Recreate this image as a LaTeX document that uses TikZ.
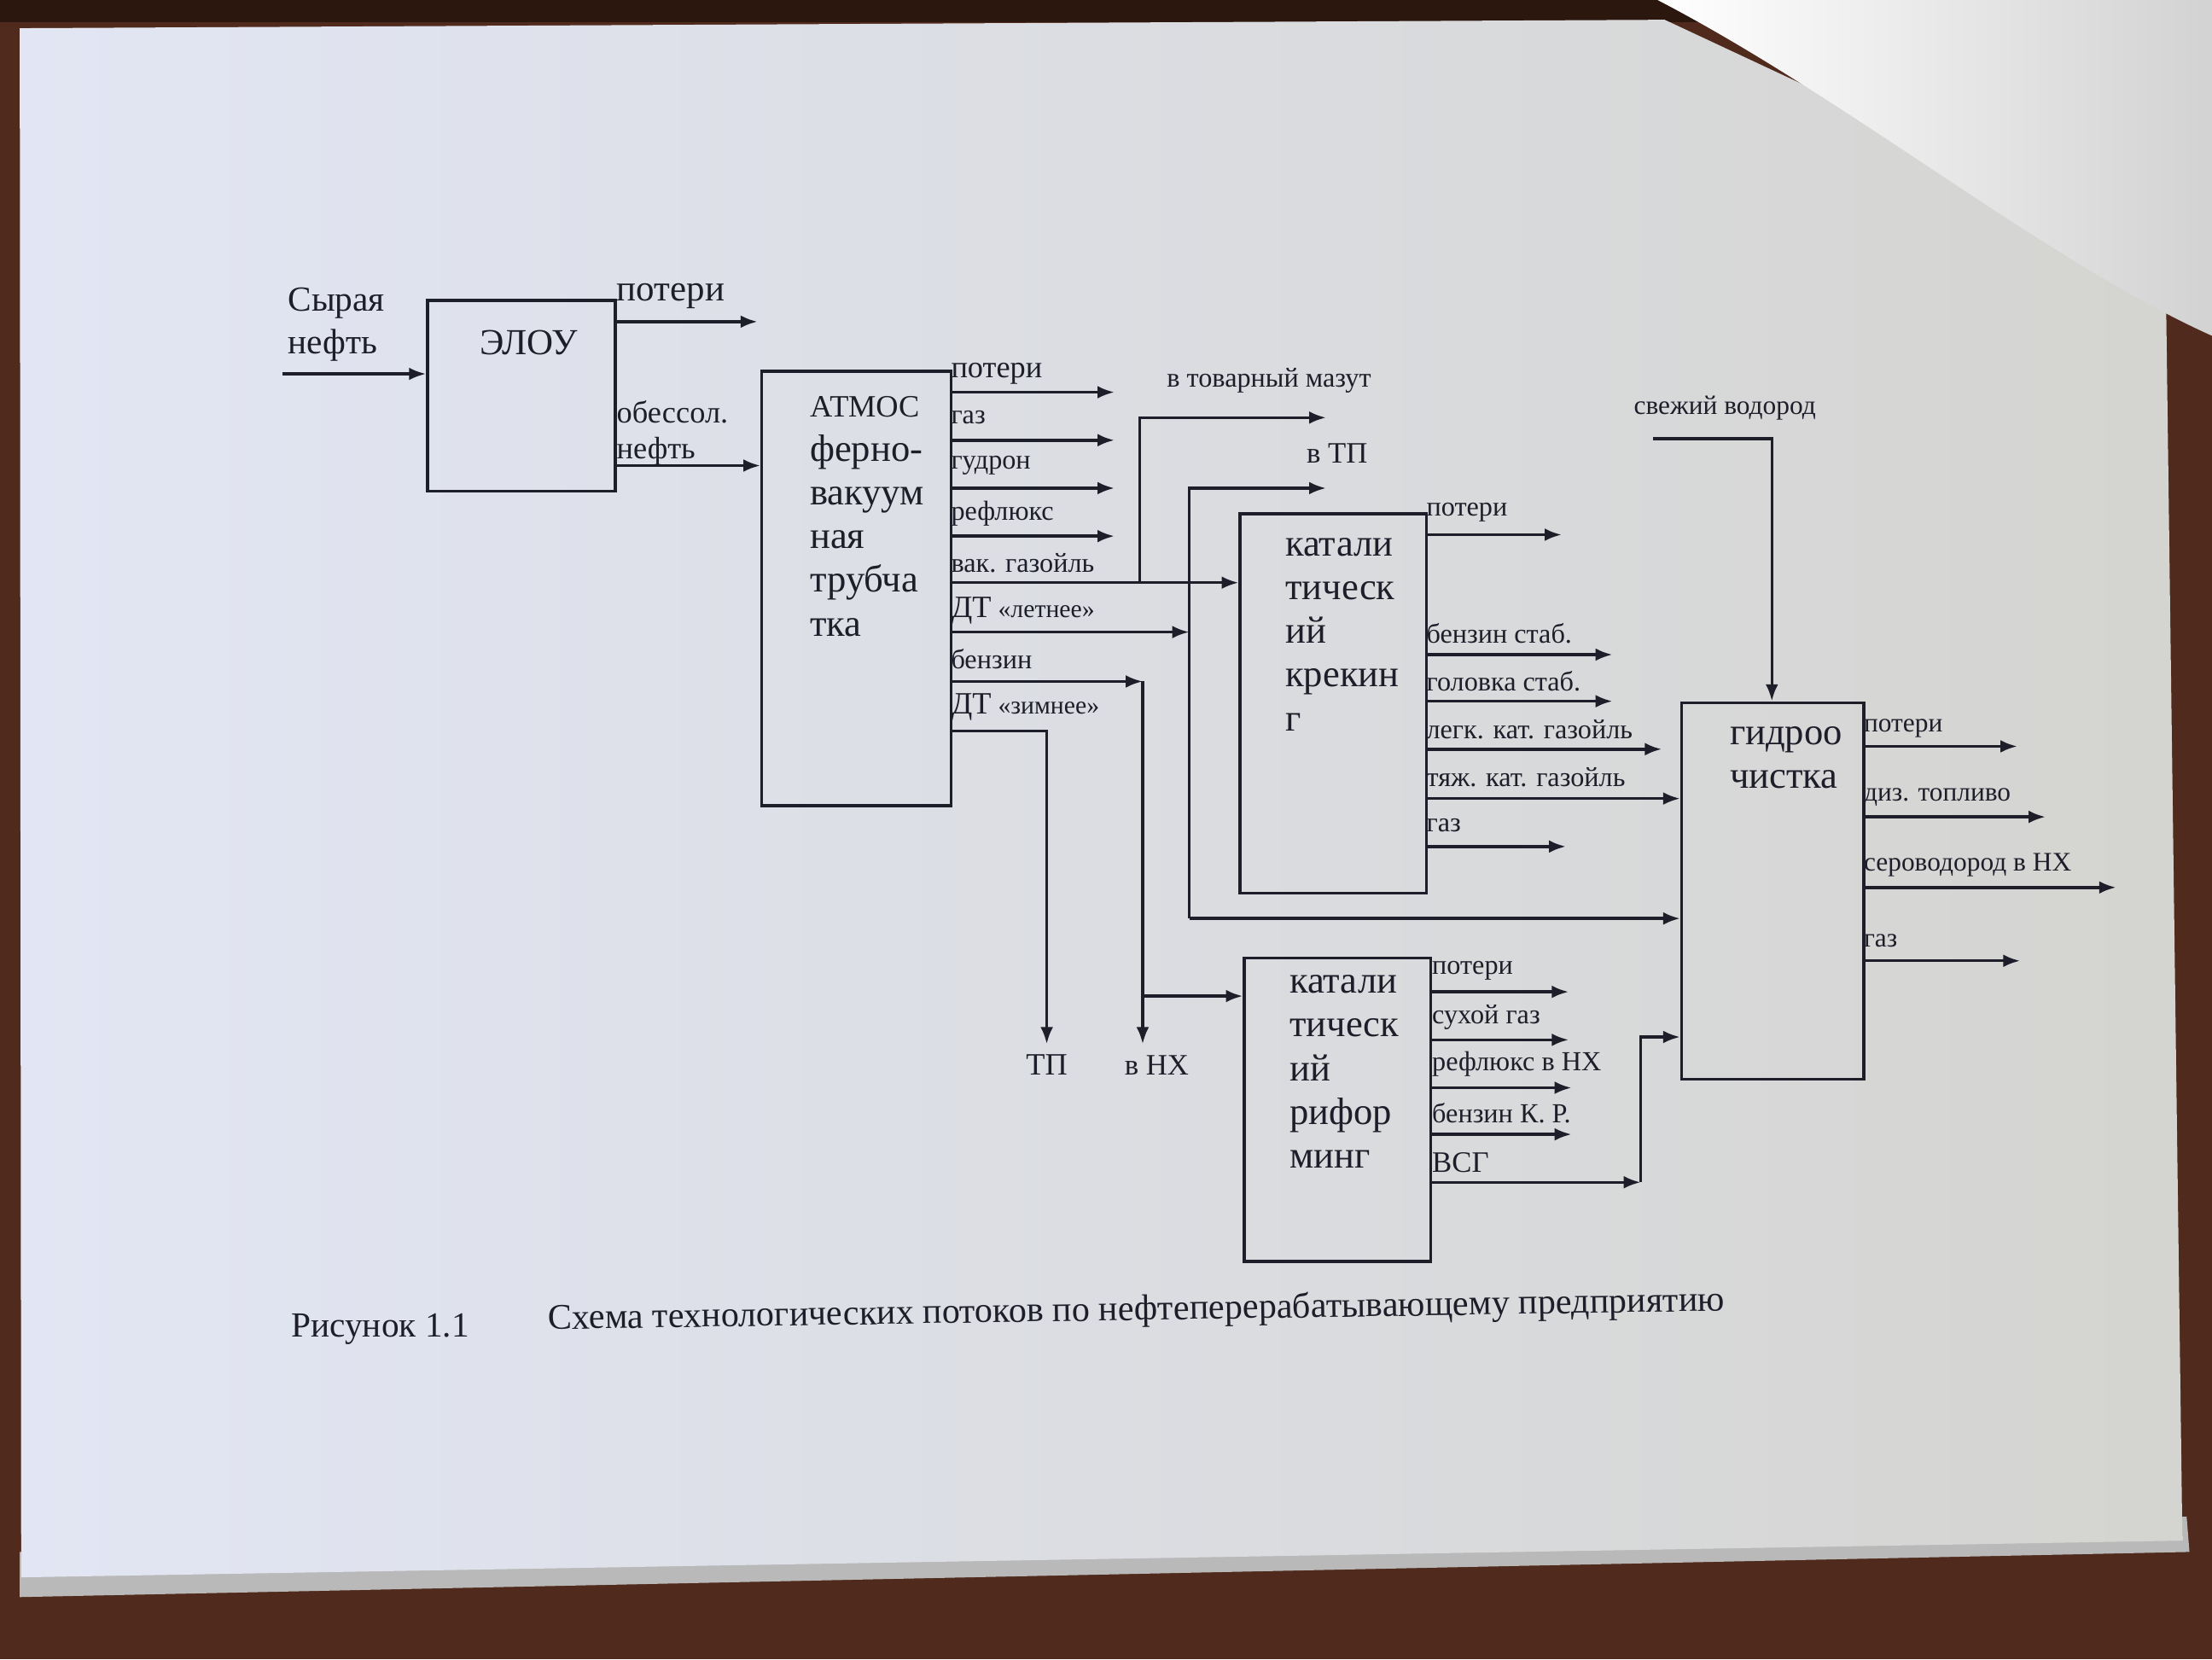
\documentclass[tikz,border=0pt]{standalone}
\usepackage{fontspec}
\setmainfont{Liberation Serif}
\usetikzlibrary{arrows.meta,calc}
\definecolor{ink}{RGB}{30,30,42}
\definecolor{wood}{RGB}{80,42,28}
\definecolor{paperL}{RGB}{226,230,244}
\definecolor{paperR}{RGB}{212,212,208}
\tikzset{
  box/.style={draw=ink,line width=2.1pt,inner sep=0pt,anchor=north west},
  arr/.style={draw=ink,line width=2.1pt,-{Latex[length=12pt,width=9pt]}},
  lbl/.style={anchor=west,inner sep=1pt,text=ink,font=\fontsize{19.5}{21}\selectfont},
  big/.style={anchor=west,inner sep=1pt,text=ink,font=\fontsize{25}{30}\selectfont,align=left},
  btxt/.style={anchor=north west,inner sep=0pt,text=ink,align=left,font=\fontsize{27}{31}\selectfont},
}
\begin{document}
\begin{tikzpicture}[x=1pt,y=-1pt]
\useasboundingbox (0,0) rectangle (1568,1176);
% background
\fill[wood] (0,0) rectangle (1568,1176);
\fill[wood!55!black] (0,0) rectangle (1568,16);
\fill[gray!55] (14,1100) -- (1550,1075) -- (1552,1100) -- (14,1132) -- cycle;
\shade[left color=paperL,right color=paperR] (14,20) -- (1180,14) -- (1535,180) -- (1547,1092) -- (15,1118) -- cycle;
\shade[left color=white,right color=gray!35] (1175,0) .. controls (1310,70) and (1450,185) .. (1568,238) -- (1568,0) -- cycle;

% boxes
\node[box,minimum width=133pt,minimum height=135pt] (elou) at (302,212) {};
\node[box,minimum width=134pt,minimum height=308pt] (atm) at (539,262) {};
\node[box,minimum width=132pt,minimum height=269pt] (kk) at (878,363) {};
\node[box,minimum width=132pt,minimum height=215pt] (kr) at (881,678) {};
\node[box,minimum width=129pt,minimum height=267pt] (gid) at (1191,497) {};

% box texts
\node[text=ink,font=\fontsize{26}{30}\selectfont] (elout) at (375,243) {ЭЛОУ};
\node[btxt] (atmt) at (574,281) {{\fontsize{22}{31}\selectfont АТМОС}\\ферно-\\вакуум\\ная\\трубча\\тка};
\node[btxt] (kkt) at (911,381) {катали\\тическ\\ий\\крекин\\г};
\node[btxt] (krt) at (914,691) {катали\\тическ\\ий\\рифор\\минг};
\node[btxt] (gidt) at (1226,515) {гидроо\\чистка};

% ELOU
\node[big] (crudet) at (203,230) {Сырая\\нефть};
\coordinate (crude) at (200,265);
\draw[arr] (crude) -- (crude -| elou.west);
\coordinate (elouloss) at (537,228);
\draw[arr] (elou.east |- elouloss) -- (elouloss);
\node[big,font=\fontsize{26}{30}\selectfont] (elouL1) at (436,210) {потери};
\node[big,font=\fontsize{22}{25}\selectfont] (elouL2) at (436,307) {обессол.\\нефть};
\draw[arr] (elou.east |- 0,330) -- (atm.west |- 0,330);

% ATM outputs
\foreach \y/\n in {278/a,312/b,346/c,380/d}{
  \coordinate (atmo\n) at (790,\y);
  \draw[arr] (atm.east |- atmo\n) -- (atmo\n);
}
\node[lbl,font=\fontsize{22}{22}\selectfont] (la1) at (673,265) {потери};
\node[lbl] (la2) at (673,296) {газ};
\node[lbl] (la3) at (673,330) {гудрон};
\node[lbl] (la4) at (673,364) {рефлюкс};
\node[lbl] (la5) at (673,399) {вак. газойль};
\node[lbl] (la6) at (673,433) {{\fontsize{22}{22}\selectfont ДТ} {\fontsize{18}{18}\selectfont «летнее»}};
\node[lbl] (la7) at (673,467) {бензин};
\node[lbl] (la8) at (673,501) {{\fontsize{22}{22}\selectfont ДТ} {\fontsize{18}{18}\selectfont «зимнее»}};

% vak. gazoil -> kk, branch to mazut
\draw[arr] (atm.east |- 0,413) -- (kk.west |- 0,413);
\coordinate (jmaz) at (808,413);
\coordinate (mazut) at (940,296);
\draw[arr] (jmaz) |- (mazut);
\node[lbl,font=\fontsize{19.5}{20}\selectfont] (lmaz) at (826,270) {в товарный мазут};

% DT letnee -> collector x=843
\coordinate (ctop) at (843,346);
\coordinate (cbot) at (843,651);
\coordinate (vtp) at (940,346);
\draw[arr] (atm.east |- 0,448) -- (ctop |- 0,448);
\draw[arr] (cbot) -- (ctop) -- (vtp);
\draw[arr] (cbot) -- (cbot -| gid.west);
\node[lbl,font=\fontsize{21}{22}\selectfont] (lvtp) at (925,321) {в ТП};

% benzin -> NH and reforming
\coordinate (bz) at (810,483);
\coordinate (vnh) at (810,740);
\coordinate (bzr) at (810,706);
\draw[arr] (atm.east |- bz) -- (bz);
\draw[arr] (bz) -- (vnh);
\draw[arr] (bzr) -- (bzr -| kr.west);
\node[lbl,font=\fontsize{21}{22}\selectfont] (lvnh) at (796,755) {в НХ};

% DT zimnee -> TP
\coordinate (zt) at (742,518);
\coordinate (tp) at (742,740);
\draw[arr] (atm.east |- zt) -- (zt) -- (tp);
\node[text=ink,font=\fontsize{22}{22}\selectfont] (ltp) at (742,755) {ТП};

% cat. cracking outputs
\foreach \y/\x/\n in {379/1107/a,464/1143/b,497/1143/c,531/1178/d,600/1110/f}{
  \coordinate (kko\n) at (\x,\y);
  \draw[arr] (kk.east |- kko\n) -- (kko\n);
}
\draw[arr] (kk.east |- 0,566) -- (gid.west |- 0,566);
\node[lbl] (lk1) at (1010,363) {потери};
\node[lbl] (lk2) at (1010,449) {бензин стаб.};
\node[lbl] (lk3) at (1010,483) {головка стаб.};
\node[lbl] (lk4) at (1010,517) {легк. кат. газойль};
\node[lbl] (lk5) at (1010,551) {тяж. кат. газойль};
\node[lbl] (lk6) at (1010,585) {газ};

% hydrotreating
\coordinate (h2) at (1172,311);
\draw[arr] (h2) -| (gid.north -| 1256,0);
\node[lbl,font=\fontsize{19}{20}\selectfont] (lh2) at (1157,289) {свежий водород};
\foreach \y/\x/\n in {529/1430/a,579/1450/b,629/1500/c,681/1432/d}{
  \coordinate (gido\n) at (\x,\y);
  \draw[arr] (gid.east |- gido\n) -- (gido\n);
}
\node[lbl,font=\fontsize{19}{20}\selectfont] (lg1) at (1320,516) {потери};
\node[lbl,font=\fontsize{19}{20}\selectfont] (lg2) at (1320,565) {диз. топливо};
\node[lbl,font=\fontsize{19}{20}\selectfont] (lg3) at (1320,613) {сероводород в НХ};
\node[lbl,font=\fontsize{19}{20}\selectfont] (lg4) at (1320,667) {газ};

% reforming outputs
\foreach \y/\x/\n in {703/1112/a,737/1112/b,771/1114/c,804/1114/d}{
  \coordinate (kro\n) at (\x,\y);
  \draw[arr] (kr.east |- kro\n) -- (kro\n);
}
\coordinate (vsg) at (1163,838);
\draw[arr] (kr.east |- vsg) -- (vsg);
\draw[arr] (vsg) |- (gid.west |- 0,735);
\node[lbl] (lr1) at (1014,688) {потери};
\node[lbl] (lr2) at (1014,721) {сухой газ};
\node[lbl] (lr3) at (1014,754) {рефлюкс в НХ};
\node[lbl] (lr4) at (1014,789) {бензин К. Р.};
\node[lbl,font=\fontsize{21}{22}\selectfont] (lr5) at (1014,824) {ВСГ};

% caption
\node[anchor=west,text=ink,font=\fontsize{25}{28}\selectfont] (cap1) at (203,942) {Рисунок 1.1};
\node[anchor=west,text=ink,font=\fontsize{25.5}{28}\selectfont,rotate=0.9] (cap2) at (385,936) {Схема технологических потоков по нефтеперерабатывающему предприятию};
\end{tikzpicture}
\end{document}
